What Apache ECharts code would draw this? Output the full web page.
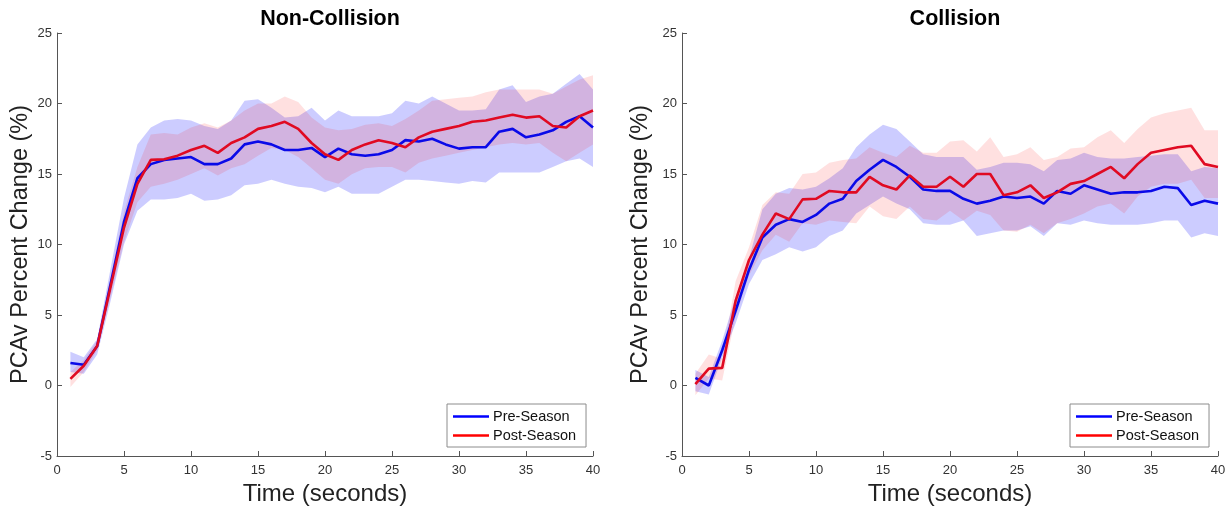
<!DOCTYPE html>
<html>
<head>
<meta charset="utf-8">
<script src="https://cdn.jsdelivr.net/npm/echarts@6/dist/echarts.min.js"></script>
<style>
html,body{margin:0;padding:0;background:#fff;}
#chart{width:1231px;height:513px;}
</style>
</head>
<body>
<div id="chart"></div>
<script>
// Time points (seconds)
const time = [1,2,3,4,5,6,7,8,9,10,11,12,13,14,15,16,17,18,19,20,21,22,23,24,25,26,27,28,29,30,31,32,33,34,35,36,37,38,39,40];
const xTicks = [0,5,10,15,20,25,30,35,40];
const yTicks = [-5,0,5,10,15,20,25];

// Non-Collision
const ncPreMean  = [1.6,1.47,2.8,7.2,11.6,14.7,15.7,16.0,16.1,16.2,15.7,15.7,16.1,17.1,17.3,17.1,16.7,16.7,16.85,16.2,16.8,16.4,16.3,16.4,16.7,17.4,17.3,17.5,17.1,16.8,16.9,16.9,18.0,18.2,17.6,17.8,18.1,18.7,19.1,18.3];
const ncPreUpper = [2.4,2.0,3.3,8.3,13.3,17.1,18.3,18.8,18.9,18.8,18.4,18.2,18.8,20.2,20.3,19.7,19.0,19.1,19.7,18.8,19.5,19.1,19.1,19.1,19.3,20.2,20.0,20.5,20.0,19.5,19.5,19.6,21.0,21.3,20.1,20.5,20.7,21.4,22.1,21.0];
const ncPreLower = [0.95,0.83,2.2,6.0,10.0,12.4,13.2,13.2,13.3,13.6,13.1,13.2,13.5,14.2,14.3,14.6,14.3,14.1,14.0,13.7,14.1,13.6,13.6,13.6,14.1,14.6,14.6,14.5,14.4,14.3,14.5,14.4,15.1,15.1,15.1,15.1,15.5,15.9,16.1,15.5];
const ncPostMean  = [0.47,1.4,2.8,7.0,11.2,14.3,16.0,16.05,16.3,16.7,17.0,16.5,17.2,17.6,18.2,18.4,18.7,18.2,17.2,16.4,16.0,16.7,17.1,17.4,17.2,16.9,17.6,18.0,18.2,18.4,18.7,18.8,19.0,19.2,19.0,19.1,18.4,18.3,19.1,19.5];
const ncPostUpper = [0.95,1.8,3.2,7.7,12.3,15.5,17.8,17.9,17.8,18.3,18.6,18.3,18.8,19.5,20.0,20.0,20.5,20.1,19.0,18.3,18.1,18.2,18.5,18.6,18.4,18.9,19.5,20.2,20.3,20.4,20.5,20.8,21.0,21.0,21.0,21.0,20.7,21.2,21.7,22.0];
const ncPostLower = [-0.1,0.95,2.5,6.3,10.2,13.0,14.1,14.3,14.6,15.0,15.4,14.9,15.4,15.7,16.3,16.85,16.7,16.2,15.4,14.6,14.3,14.98,15.4,15.5,15.5,15.1,15.8,16.1,16.3,16.5,16.7,16.9,17.1,17.2,17.1,17.2,16.5,15.9,16.5,17.1];

// Collision
const cPreMean  = [0.54,0.0,2.5,5.3,8.2,10.5,11.4,11.8,11.6,12.1,12.9,13.24,14.5,15.3,16.0,15.5,14.8,13.9,13.8,13.8,13.24,12.9,13.1,13.4,13.3,13.4,12.9,13.8,13.6,14.2,13.9,13.6,13.7,13.7,13.8,14.1,14.0,12.8,13.1,12.9];
const cPreUpper = [1.1,0.6,3.2,6.3,9.0,12.5,13.6,14.0,13.9,14.1,14.7,15.4,16.9,17.8,18.5,18.2,17.3,16.4,16.2,16.2,16.2,15.3,15.5,15.8,15.8,15.7,15.2,16.0,16.1,16.5,16.2,16.1,16.1,16.2,16.3,16.4,16.4,15.2,15.5,15.4];
const cPreLower = [-0.4,-0.64,2.0,4.4,7.2,8.9,9.3,9.8,9.5,9.8,10.6,11.0,12.2,12.8,13.4,12.9,12.5,11.5,11.4,11.4,11.7,10.6,10.8,11.0,11.0,11.3,10.6,11.5,11.4,11.7,11.5,11.4,11.4,11.4,11.5,11.7,11.7,10.5,10.8,10.6];
const cPostMean  = [0.1,1.2,1.25,6.0,8.9,10.7,12.2,11.8,13.2,13.24,13.8,13.7,13.7,14.8,14.2,13.9,14.9,14.1,14.1,14.8,14.1,15.0,15.0,13.5,13.7,14.2,13.3,13.7,14.3,14.5,15.0,15.5,14.7,15.7,16.5,16.7,16.9,17.0,15.7,15.5];
const cPostUpper = [0.83,2.2,1.9,7.4,9.8,12.8,13.7,13.6,15.0,15.1,15.8,16.0,16.1,16.9,16.5,16.2,17.0,16.5,16.5,17.3,17.4,16.6,17.6,16.2,16.4,16.9,16.0,16.2,16.8,16.9,17.6,18.1,17.2,18.2,19.0,19.3,19.5,19.7,18.1,18.1];
const cPostLower = [-0.7,0.5,0.35,4.9,7.8,9.6,10.7,10.2,11.5,11.4,11.7,11.6,11.5,12.7,12.0,11.8,12.7,11.8,11.7,12.4,11.7,12.4,12.1,11.0,10.9,11.4,10.8,11.5,11.8,12.2,12.7,12.9,12.2,13.4,14.1,14.3,14.3,14.6,13.3,13.3];

const titles = ['Non-Collision', 'Collision'];
const seriesNames = ['Pre-Season', 'Post-Season'];
const FONT = 'Liberation Sans, Arial, Helvetica, sans-serif';

function pairs(y){ return time.map((t,i)=>[t,y[i]]); }

function band(idx, lower, upper, color){
  return {
    type:'custom', xAxisIndex:idx, yAxisIndex:idx, silent:true, z:1,
    data:[0],
    renderItem:function(params, api){
      const pts=[];
      for(let i=0;i<time.length;i++) pts.push(api.coord([time[i], upper[i]]));
      for(let i=time.length-1;i>=0;i--) pts.push(api.coord([time[i], lower[i]]));
      return {type:'polygon', shape:{points:pts}, style:{fill:color}};
    }
  };
}
function line(idx, name, y, legendColor, color){
  return {
    type:'line', name:name, xAxisIndex:idx, yAxisIndex:idx, z:3,
    data:pairs(y), symbol:'none', smooth:false,
    color:legendColor,
    lineStyle:{color:color, width:2.6},
    emphasis:{disabled:true}
  };
}

const gridLefts = [57, 682];
const chart = echarts.init(document.getElementById('chart'), null, {renderer:'canvas'});

const grids = gridLefts.map(l=>({left:l, top:33, width:536, height:423}));
const xAxes = [0,1].map(i=>({
  type:'value', gridIndex:i, min:0, max:40, interval:5,
  name:'Time (seconds)', nameLocation:'middle', nameGap:26,
  nameTextStyle:{fontSize:24, color:'#222', fontFamily:FONT},
  axisLine:{show:true, onZero:false, lineStyle:{color:'#555', width:1}},
  axisTick:{show:true, inside:true, length:5, lineStyle:{color:'#555'}},
  axisLabel:{fontSize:13, color:'#333', margin:8, fontFamily:FONT},
  splitLine:{show:false}
}));
const yAxes = [0,1].map(i=>({
  type:'value', gridIndex:i, min:-5, max:25, interval:5,
  name:'PCAv Percent Change (%)', nameLocation:'middle', nameGap: i===0 ? 24 : 29,
  nameTextStyle:{fontSize:23.5, color:'#222', fontFamily:FONT},
  axisLine:{show:true, onZero:false, lineStyle:{color:'#555', width:1}},
  axisTick:{show:true, inside:true, length:5, lineStyle:{color:'#555'}},
  axisLabel:{fontSize:13, color:'#333', margin:5, fontFamily:FONT},
  splitLine:{show:false}
}));

const BLUE_FILL = 'rgba(0,0,255,0.2)';
const RED_FILL = 'rgba(255,0,0,0.12)';
const series = [
  band(0, ncPreLower, ncPreUpper, BLUE_FILL),
  band(0, ncPostLower, ncPostUpper, RED_FILL),
  line(0, seriesNames[0], ncPreMean, '#0000ff', '#0a0ae8'),
  line(0, seriesNames[1], ncPostMean, '#ff0000', '#e00a22'),
  band(1, cPreLower, cPreUpper, BLUE_FILL),
  band(1, cPostLower, cPostUpper, RED_FILL),
  line(1, seriesNames[0], cPreMean, '#0000ff', '#0a0ae8'),
  line(1, seriesNames[1], cPostMean, '#ff0000', '#e00a22')
];

const legendBase = {
  orient:'vertical', top:404, data:seriesNames, icon:'rect',
  itemWidth:36, itemHeight:2.5, itemGap:4, selectedMode:false,
  borderColor:'#8c8c8c', borderWidth:1, backgroundColor:'#fff',
  padding:[5,10,4,6],
  textStyle:{fontSize:14.5, color:'#111', fontFamily:FONT, padding:[0,0,0,-1]}
};

chart.setOption({
  animation:false,
  backgroundColor:'#fff',
  title: titles.map((t,i)=>({
    text:t, left: gridLefts[i]+268, top:3, textAlign:'center',
    textStyle:{fontSize:21.5, fontWeight:'bold', color:'#000', fontFamily:FONT}
  })),
  grid: grids,
  xAxis: xAxes,
  yAxis: yAxes,
  legend: [
    Object.assign({}, legendBase, {left:447}),
    Object.assign({}, legendBase, {left:1070})
  ],
  series: series
});
</script>
</body>
</html>
